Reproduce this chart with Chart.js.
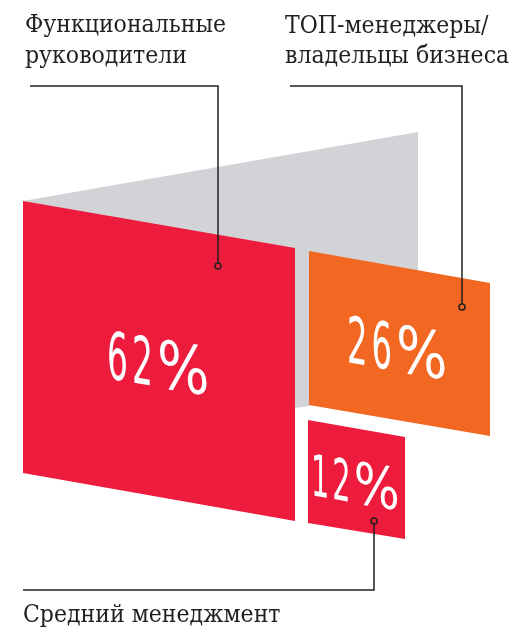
<!DOCTYPE html>
<html>
<head>
<meta charset="utf-8">
<script src="https://cdn.jsdelivr.net/npm/chart.js@4/dist/chart.umd.min.js"></script>
<style>
  html, body { margin: 0; padding: 0; background: #fff; }
  canvas { display: block; }
</style>
</head>
<body>
<canvas id="infographic" width="513" height="627"></canvas>
<script>
// данные
const categories = ['Функциональные руководители', 'ТОП-менеджеры/владельцы бизнеса', 'Средний менеджмент'];
const labelLines = [['Функциональные', 'руководители'], ['ТОП-менеджеры/', 'владельцы бизнеса'], ['Средний менеджмент']];
const shares = [62, 26, 12];

// оформление
const panelColors = ['#ED1B3C', '#F26722', '#ED1B3C'];
const backdropColor = '#D1D3D6';
const inkColor = '#231F20';

// раскладка (в пикселях макета 513x627)
const W = 513, H = 627;
const panels = [
    { x0: 23, x1: 295, top0: 201, top1: 248, bot0: 473, bot1: 521 },
    { x0: 309, x1: 490, top0: 251, top1: 283, bot0: 405, bot1: 436 },
    { x0: 308, x1: 405, top0: 420, top1: 437, bot0: 523, bot1: 539 }
];
const backdrop = [[23, 201], [418, 132], [418, 300], [309, 406], [295, 408], [23, 408]];
const shareText = [
    { x: 107, top: 330, h: 48, gap: 4 },
    { x: 347, top: 315, h: 47, gap: 4 },
    { x: 311, top: 453, h: 42, gap: 3 }
];
const labelPos = [
    { x: 25, y: [32, 63] },
    { x: 285, y: [33, 63] },
    { x: 23, y: [622] }
];
// выноски: ломаная + кружок на конце
const callouts = [
    { path: [[30, 86], [218, 86], [218, 263]], dot: [218, 266] },
    { path: [[290, 86], [462, 86], [462, 304]], dot: [462, 307] },
    { path: [[23, 590], [374, 590], [374, 524]], dot: [374, 521] }
];

const infographicPlugin = {
    id: 'infographic',
    afterDraw(chart) {
        const ctx = chart.ctx;
        const sx = v => chart.scales.x.getPixelForValue(v);
        const sy = v => chart.scales.y.getPixelForValue(v);

        // серая подложка
        ctx.save();
        ctx.fillStyle = backdropColor;
        ctx.beginPath();
        backdrop.forEach(([x, y], i) => i ? ctx.lineTo(sx(x), sy(y)) : ctx.moveTo(sx(x), sy(y)));
        ctx.closePath();
        ctx.fill();

        // панели
        panels.forEach((p, i) => {
            ctx.fillStyle = panelColors[i];
            ctx.beginPath();
            ctx.moveTo(sx(p.x0), sy(p.top0));
            ctx.lineTo(sx(p.x1), sy(p.top1));
            ctx.lineTo(sx(p.x1), sy(p.bot1));
            ctx.lineTo(sx(p.x0), sy(p.bot0));
            ctx.closePath();
            ctx.fill();
        });

        // проценты
        shares.forEach((v, i) => {
            const p = panels[i];
            const shear = (p.top1 - p.top0) / (p.x1 - p.x0);
            const t = shareText[i];
            const fs = t.h / 0.729;
            ctx.save();
            ctx.translate(sx(t.x), sy(t.top));
            ctx.transform(1, shear, 0, 1, 0, 0);
            ctx.fillStyle = '#fff';
            ctx.font = `${fs}px "DejaVu Sans"`;
            ctx.textBaseline = 'alphabetic';
            let cx = 0;
            for (const ch of `${v}%`) {
                const k = ch === '%' ? 0.84 : 0.5;
                ctx.save();
                ctx.translate(cx, t.h);
                ctx.scale(k, 1);
                ctx.fillText(ch, 0, 0);
                ctx.restore();
                cx += ctx.measureText(ch).width * k + t.gap;
            }
            ctx.restore();
        });

        // выноски
        ctx.strokeStyle = inkColor;
        ctx.lineWidth = 1.5;
        callouts.forEach(c => {
            ctx.beginPath();
            c.path.forEach(([x, y], i) => i ? ctx.lineTo(sx(x), sy(y)) : ctx.moveTo(sx(x), sy(y)));
            ctx.stroke();
            ctx.beginPath();
            ctx.arc(sx(c.dot[0]), sy(c.dot[1]), 3, 0, Math.PI * 2);
            ctx.stroke();
        });

        // подписи
        ctx.fillStyle = inkColor;
        ctx.font = '24px "DejaVu Serif"';
        ctx.textBaseline = 'alphabetic';
        const squeeze = 201 / ctx.measureText(labelLines[0][0]).width;
        labelLines.forEach((lines, i) => {
            lines.forEach((line, j) => {
                ctx.save();
                ctx.translate(sx(labelPos[i].x), sy(labelPos[i].y[j]));
                ctx.scale(squeeze, 1);
                ctx.fillText(line, 0, 0);
                ctx.restore();
            });
        });
        ctx.restore();
    }
};

new Chart(document.getElementById('infographic'), {
    type: 'scatter',
    data: {
        labels: categories,
        datasets: [{ label: 'Доля, %', data: [] }]
    },
    options: {
        responsive: false,
        animation: false,
        devicePixelRatio: 1,
        layout: { padding: 0 },
        plugins: {
            legend: { display: false },
            tooltip: { enabled: false }
        },
        scales: {
            x: { type: 'linear', min: 0, max: W, display: false },
            y: { type: 'linear', min: 0, max: H, reverse: true, display: false }
        }
    },
    plugins: [infographicPlugin]
});
</script>
</body>
</html>
